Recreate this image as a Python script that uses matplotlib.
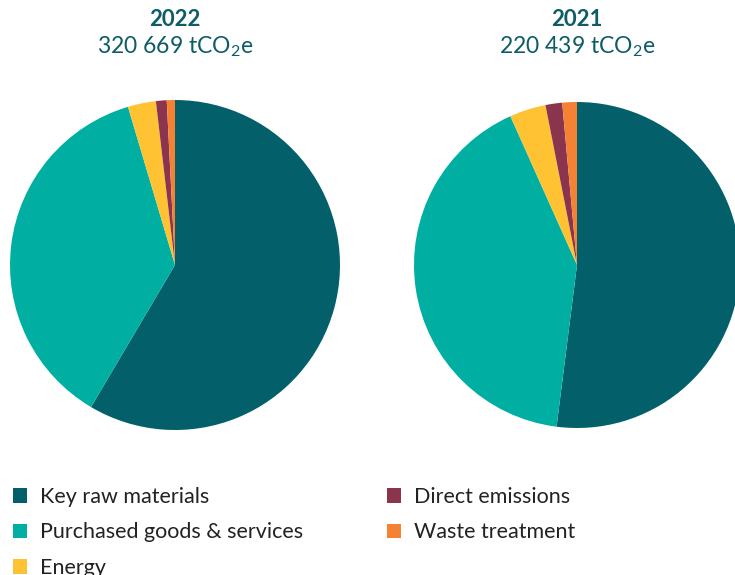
import matplotlib
matplotlib.use("Agg")
from matplotlib import pyplot as plt
from matplotlib.patches import Patch

plt.rcParams['font.family'] = ['Lato', 'DejaVu Sans']
plt.rcParams['mathtext.fontset'] = 'custom'
plt.rcParams['mathtext.rm'] = 'Lato'

categories = ["Key raw materials", "Purchased goods & services", "Energy",
              "Direct emissions", "Waste treatment"]
colors = ["#03606b", "#00afa1", "#ffc232", "#8b344d", "#f58232"]

years = ["2022", "2021"]
totals = ["320 669", "220 439"]
shares_2022 = [58.5, 36.9, 2.75, 1.05, 0.8]
shares_2021 = [52.0, 41.3, 3.6, 1.65, 1.45]

title_color = "#0d5c66"

fig = plt.figure(figsize=(7.35, 5.75), dpi=100)

# pie axes placed by hand (pixel centres / radii)
ax1 = fig.add_axes([10 / 735, 145 / 575, 330 / 735, 330 / 575])
ax2 = fig.add_axes([414 / 735, 147 / 575, 326 / 735, 326 / 575])

for ax, vals in [(ax1, shares_2022), (ax2, shares_2021)]:
    ax.pie(vals, colors=colors, startangle=90, counterclock=False,
           wedgeprops=dict(linewidth=0))
    ax.set_xlim(-1, 1)
    ax.set_ylim(-1, 1)
    ax.set_aspect('equal')
    ax.axis('off')

for xc, year, tot in [(175, years[0], totals[0]), (577, years[1], totals[1])]:
    fig.text(xc / 735, 1 - 19 / 575, year, ha='center', va='center',
             fontsize=16, fontweight='bold', color=title_color)
    fig.text(xc / 735, 1 - 47 / 575, tot + r" tCO$_\mathregular{2}$e",
             ha='center', va='center', fontsize=16.5, color=title_color)

handles = [Patch(facecolor=c, edgecolor='none') for c in colors]

leg_opts = dict(loc='upper left', frameon=False, fontsize=15.5,
                handlelength=0.65, handleheight=0.65, handletextpad=0.6,
                labelspacing=0.72, borderaxespad=0, borderpad=0,
                labelcolor="#222222")
leg1 = fig.legend(handles[:3], categories[:3],
                  bbox_to_anchor=(13 / 735, 1 - 487 / 575), **leg_opts)
leg2 = fig.legend(handles[3:], categories[3:],
                  bbox_to_anchor=(387 / 735, 1 - 487 / 575), **leg_opts)

fig.savefig("out.png", dpi=100)
